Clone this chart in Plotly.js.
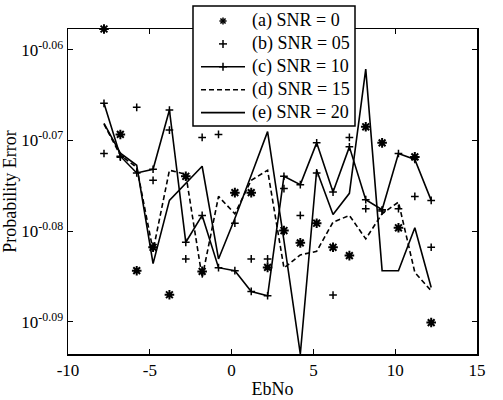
<!DOCTYPE html>
<html>
<head>
<meta charset="utf-8">
<script src="https://cdn.plot.ly/plotly-3.0.1.min.js"></script>
<style>
  html, body { margin: 0; padding: 0; background: #fff; }
  #chart { width: 503px; height: 400px; }
</style>
</head>
<body>
<div id="chart"></div>
<script>
// Eb/No sample points shared by all five curves
const ebno = [-7.8, -6.8, -5.8, -4.8, -3.8, -2.8, -1.8, -0.8, 0.2, 1.2, 2.2,
              3.2, 4.2, 5.2, 6.2, 7.2, 8.2, 9.2, 10.2, 11.2, 12.2];

// Probability of error for each SNR setting
const snr0  = [0.87557, 0.85244, 0.82345, 0.82836, 0.81843, 0.84343, 0.82330, 0.86433, 0.83993, 0.83993, 0.82414,
               0.83189, 0.82929, 0.83344, 0.82836, 0.82661, 0.85410, 0.85062, 0.83247, 0.84759, 0.81267];
const snr05 = [0.84832, 0.84752, 0.85833, 0.84257, 0.85338, 0.82591, 0.85179, 0.85244, 0.83344, 0.82591, 0.82591,
               0.84079, 0.83508, 0.84414, 0.81836, 0.85179, 0.83651, 0.83604, 0.83651, 0.83913, 0.82836];
const snr10 = [0.85921, 0.84774, 0.84414, 0.84493, 0.85774, 0.82941, 0.83508, 0.82408, 0.82345, 0.81912, 0.81822,
               0.84343, 0.84164, 0.85062, 0.84006, 0.84975, 0.83843, 0.83629, 0.84832, 0.84703, 0.83828];
const snr15 = [0.85468, 0.84795, 0.84536, 0.82766, 0.84472, 0.84386, 0.82198, 0.83913, 0.83544, 0.84257, 0.84472,
               0.82402, 0.82675, 0.82751, 0.83366, 0.83508, 0.83013, 0.83544, 0.83792, 0.82309, 0.81926];
const snr20 = [0.85484, 0.84839, 0.84579, 0.82492, 0.83828, 0.84192, 0.84558, 0.82591, 0.83444, 0.84364, 0.85305,
               0.82977, 0.80621, 0.84472, 0.83529, 0.83978, 0.86669, 0.82345, 0.82345, 0.83247, 0.81995];

const seriesNames = ['(a) SNR = 0', '(b) SNR = 05', '(c) SNR = 10', '(d) SNR = 15', '(e) SNR = 20'];

// Decade exponents shown on the log axis
const yTickExponents = [-0.06, -0.07, -0.08, -0.09];
const xTicks = [-10, -5, 0, 5, 10, 15];

const serif = '"Liberation Serif", "Times New Roman", Times, serif';
const W = 503, H = 400;
const M = { l: 68, r: 26, t: 29, b: 46 };

// Per-series styling; the legend below reuses it
const styles = [
  { kind: 'asterisk', dash: null },
  { kind: 'plus', dash: null },
  { kind: 'plus', dash: 'solid' },
  { kind: null, dash: '5px,3px' },
  { kind: null, dash: 'solid' }
];

const markerFor = kind => kind === 'asterisk'
  ? { symbol: 'asterisk-open', size: 8, color: '#000', line: { width: 2, color: '#000' } }
  : { symbol: 'cross-thin-open', size: 5.5, color: '#000', line: { width: 1.5, color: '#000' } };

const seriesValues = [snr0, snr05, snr10, snr15, snr20];
const traces = seriesValues.map((vals, i) => {
  const s = styles[i];
  const t = { x: ebno, y: vals, name: seriesNames[i], cliponaxis: false, showlegend: false };
  if (s.kind && s.dash) {
    t.mode = 'lines+markers';
    t.line = { color: '#000', width: 1.6, dash: s.dash };
    t.marker = markerFor(s.kind);
    t.cliponaxis = true;
  } else if (s.kind) {
    t.mode = 'markers';
    t.marker = markerFor(s.kind);
  } else {
    t.mode = 'lines';
    t.line = { color: '#000', width: 1.6, dash: s.dash };
    t.cliponaxis = true;
  }
  return t;
});

const allValues = [].concat(snr0, snr05, snr10, snr15, snr20);
const yMin = Math.min.apply(null, allValues);
const yMax = Math.max.apply(null, allValues);

// Legend box drawn in page pixels, converted to paper units of the plot area
const plotW = W - M.l - M.r, plotH = H - M.t - M.b;
const px = x => (x - M.l) / plotW;
const py = y => (H - M.b - y) / plotH;

const legendBox = { x0: 193, x1: 355, y0: 6, y1: 126 };
const rowTop = 21, rowStep = 22.9;
const sampleX0 = 201, sampleX1 = 245, sampleMid = 223, textX = 250;

const shapes = [{
  type: 'rect', xref: 'paper', yref: 'paper', layer: 'above',
  x0: px(legendBox.x0), x1: px(legendBox.x1), y0: py(legendBox.y1), y1: py(legendBox.y0),
  fillcolor: '#fff', line: { color: '#000', width: 1.5 }
}];
const annotations = [];

function seg(x0, y0, x1, y1, width, dash) {
  shapes.push({
    type: 'line', xref: 'paper', yref: 'paper', layer: 'above',
    x0: px(x0), y0: py(y0), x1: px(x1), y1: py(y1),
    line: { color: '#000', width: width, dash: dash || 'solid' }
  });
}
function plusGlyph(cx, cy, r) {
  seg(cx - r, cy, cx + r, cy, 1.5);
  seg(cx, cy - r, cx, cy + r, 1.5);
}
function asteriskGlyph(cx, cy, r) {
  plusGlyph(cx, cy, r);
  const d = r * 0.72;
  seg(cx - d, cy - d, cx + d, cy + d, 1.5);
  seg(cx - d, cy + d, cx + d, cy - d, 1.5);
}

styles.forEach((s, i) => {
  const cy = rowTop + i * rowStep;
  if (s.dash) seg(sampleX0, cy, sampleX1, cy, 1.6, s.dash);
  if (s.kind === 'asterisk') asteriskGlyph(sampleMid, cy, 3.6);
  if (s.kind === 'plus') plusGlyph(sampleMid, cy, 4);
  annotations.push({
    xref: 'paper', yref: 'paper', x: px(textX), y: py(cy),
    xanchor: 'left', yanchor: 'middle', showarrow: false,
    text: seriesNames[i], font: { family: serif, size: 18, color: '#000' }
  });
});

const layout = {
  width: W,
  height: H,
  paper_bgcolor: '#fff',
  plot_bgcolor: '#fff',
  margin: M,
  font: { family: serif, size: 17, color: '#000' },
  showlegend: false,
  shapes: shapes,
  annotations: annotations,
  xaxis: {
    range: [-10, 15],
    tickvals: xTicks,
    ticktext: xTicks.map(String),
    ticks: 'inside', ticklen: 5, tickwidth: 1, tickcolor: '#000',
    showline: true, linecolor: '#000', linewidth: 1.5, mirror: 'ticks',
    showgrid: false, zeroline: false,
    tickfont: { family: serif, size: 17 },
    title: { text: 'EbNo', font: { family: serif, size: 18 }, standoff: 3 }
  },
  yaxis: {
    type: 'log',
    range: [Math.log10(yMin), Math.log10(yMax)],
    tickvals: yTickExponents.map(e => Math.pow(10, e)),
    ticktext: yTickExponents.map(e => '10<sup>' + e.toFixed(2) + '</sup>'),
    ticks: 'inside', ticklen: 5, tickwidth: 1, tickcolor: '#000',
    showline: true, linecolor: '#000', linewidth: 1.5, mirror: 'ticks',
    showgrid: false, zeroline: false,
    tickfont: { family: serif, size: 17 },
    title: { text: 'Probability Error', font: { family: serif, size: 18 }, standoff: 0 }
  }
};

Plotly.newPlot('chart', traces, layout, { displayModeBar: false, staticPlot: true });
</script>
</body>
</html>
